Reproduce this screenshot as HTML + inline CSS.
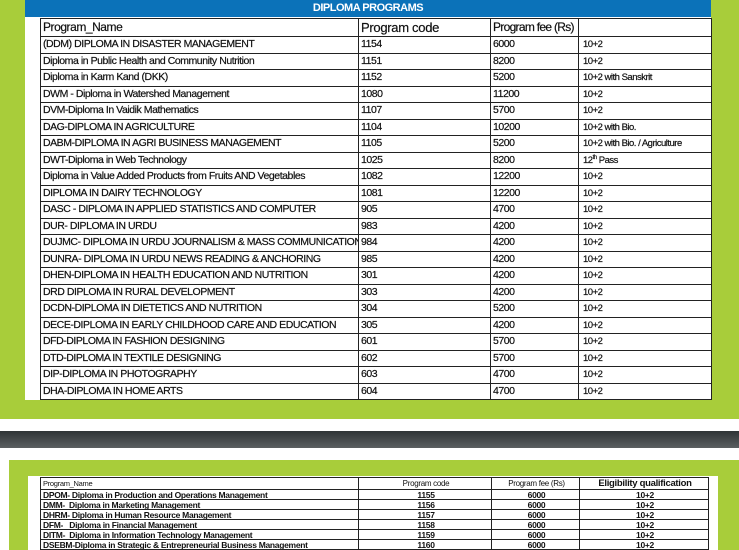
<!DOCTYPE html>
<html><head><style>
body{margin:0;width:739px;height:550px;overflow:hidden;background:#fff;position:relative;font-family:"Liberation Sans",sans-serif}
.abs{position:absolute}
table{border-collapse:collapse;position:absolute;table-layout:fixed}
td{border:1.5px solid #222;padding:0 0 0 2px;white-space:nowrap;overflow:hidden;color:#111}
#t1 tr{height:16.5px}
#t1 td{font-size:10.5px;line-height:13px;letter-spacing:-0.45px;padding:0 0 0 2px;-webkit-text-stroke:0.2px #111}
#t1 td:nth-child(4){font-size:9.5px;padding-left:4px;letter-spacing:-0.5px}
#t1 sup{font-size:6px;line-height:0;vertical-align:4px}
#t2 tr{height:10px}
#t2 td{font-size:8.5px;font-weight:bold;line-height:8px;border-width:1px;letter-spacing:-0.3px}
#t2 td:nth-child(2),#t2 td:nth-child(3),#t2 td:nth-child(4){text-align:center}
</style></head><body>
<div class="abs" style="left:0;top:0;width:739px;height:419px;background:#a8cd3a"></div>
<div class="abs" style="left:25px;top:0;width:686px;height:400px;background:#fff"></div>
<div class="abs" style="left:25px;top:0;width:686px;height:17px;background:#0b72b9;color:#fff;font-weight:bold;font-size:11px;letter-spacing:-0.5px;line-height:17px;text-align:center">DIPLOMA PROGRAMS</div>
<div class="abs" style="left:0;top:431px;width:739px;height:17px;background:linear-gradient(#2f3436,#5b5f61)"></div>
<div class="abs" style="left:9px;top:460px;width:730px;height:90px;background:#a8cd3a"></div>
<div class="abs" style="left:28px;top:476px;width:690px;height:74px;background:#fff"></div>
<table id="t1" style="left:40px;top:18px;width:671px">
<colgroup><col style="width:318px"><col style="width:132px"><col style="width:88px"><col style="width:133px"></colgroup>
<tr style="height:18px"><td style="font-size:12px">Program_Name</td><td style="font-size:13px;letter-spacing:-0.3px">Program code</td><td style="font-size:12px;letter-spacing:-0.7px">Program fee (Rs)</td><td></td></tr>
<tr><td>(DDM) DIPLOMA IN DISASTER MANAGEMENT</td><td>1154</td><td>6000</td><td>10+2</td></tr>
<tr><td>Diploma in Public Health and Community Nutrition</td><td>1151</td><td>8200</td><td>10+2</td></tr>
<tr><td>Diploma in Karm Kand (DKK)</td><td>1152</td><td>5200</td><td>10+2 with Sanskrit</td></tr>
<tr><td>DWM - Diploma in Watershed Management</td><td>1080</td><td>11200</td><td>10+2</td></tr>
<tr><td>DVM-Diploma In Vaidik Mathematics</td><td>1107</td><td>5700</td><td>10+2</td></tr>
<tr><td>DAG-DIPLOMA IN AGRICULTURE</td><td>1104</td><td>10200</td><td>10+2 with Bio.</td></tr>
<tr><td>DABM-DIPLOMA IN AGRI BUSINESS MANAGEMENT</td><td>1105</td><td>5200</td><td>10+2 with Bio. / Agriculture</td></tr>
<tr><td>DWT-Diploma in Web Technology</td><td>1025</td><td>8200</td><td>12<sup>th</sup> Pass</td></tr>
<tr><td>Diploma in Value Added Products from Fruits AND Vegetables</td><td>1082</td><td>12200</td><td>10+2</td></tr>
<tr><td>DIPLOMA IN DAIRY TECHNOLOGY</td><td>1081</td><td>12200</td><td>10+2</td></tr>
<tr><td>DASC - DIPLOMA IN APPLIED STATISTICS AND COMPUTER</td><td>905</td><td>4700</td><td>10+2</td></tr>
<tr><td>DUR- DIPLOMA IN URDU</td><td>983</td><td>4200</td><td>10+2</td></tr>
<tr><td>DUJMC- DIPLOMA IN URDU JOURNALISM &amp; MASS COMMUNICATION</td><td>984</td><td>4200</td><td>10+2</td></tr>
<tr><td>DUNRA- DIPLOMA IN URDU NEWS READING &amp; ANCHORING</td><td>985</td><td>4200</td><td>10+2</td></tr>
<tr><td>DHEN-DIPLOMA IN HEALTH EDUCATION AND NUTRITION</td><td>301</td><td>4200</td><td>10+2</td></tr>
<tr><td>DRD DIPLOMA IN RURAL DEVELOPMENT</td><td>303</td><td>4200</td><td>10+2</td></tr>
<tr><td>DCDN-DIPLOMA IN DIETETICS AND NUTRITION</td><td>304</td><td>5200</td><td>10+2</td></tr>
<tr><td>DECE-DIPLOMA IN EARLY CHILDHOOD CARE AND EDUCATION</td><td>305</td><td>4200</td><td>10+2</td></tr>
<tr><td>DFD-DIPLOMA IN FASHION DESIGNING</td><td>601</td><td>5700</td><td>10+2</td></tr>
<tr><td>DTD-DIPLOMA IN TEXTILE DESIGNING</td><td>602</td><td>5700</td><td>10+2</td></tr>
<tr><td>DIP-DIPLOMA IN PHOTOGRAPHY</td><td>603</td><td>4700</td><td>10+2</td></tr>
<tr><td>DHA-DIPLOMA IN HOME ARTS</td><td>604</td><td>4700</td><td>10+2</td></tr>
</table>
<table id="t2" style="left:40px;top:477px;width:668px">
<colgroup><col style="width:318px"><col style="width:133px"><col style="width:88px"><col style="width:129px"></colgroup>
<tr style="height:12px"><td style="font-weight:normal;font-size:7.5px">Program_Name</td><td style="font-weight:normal;font-size:8px">Program code</td><td style="font-weight:normal;font-size:8px">Program fee (Rs)</td><td style="font-size:9.5px">Eligibility qualification</td></tr>
<tr><td>DPOM- Diploma in Production and Operations Management</td><td>1155</td><td>6000</td><td>10+2</td></tr>
<tr><td>DMM- &nbsp;Diploma in Marketing Management</td><td>1156</td><td>6000</td><td>10+2</td></tr>
<tr><td>DHRM- Diploma in Human Resource Management</td><td>1157</td><td>6000</td><td>10+2</td></tr>
<tr><td>DFM- &nbsp;&nbsp;Diploma in Financial Management</td><td>1158</td><td>6000</td><td>10+2</td></tr>
<tr><td>DITM- &nbsp;Diploma in Information Technology Management</td><td>1159</td><td>6000</td><td>10+2</td></tr>
<tr><td>DSEBM-Diploma in Strategic &amp; Entrepreneurial Business Management</td><td>1160</td><td>6000</td><td>10+2</td></tr>
</table>
</body></html>
